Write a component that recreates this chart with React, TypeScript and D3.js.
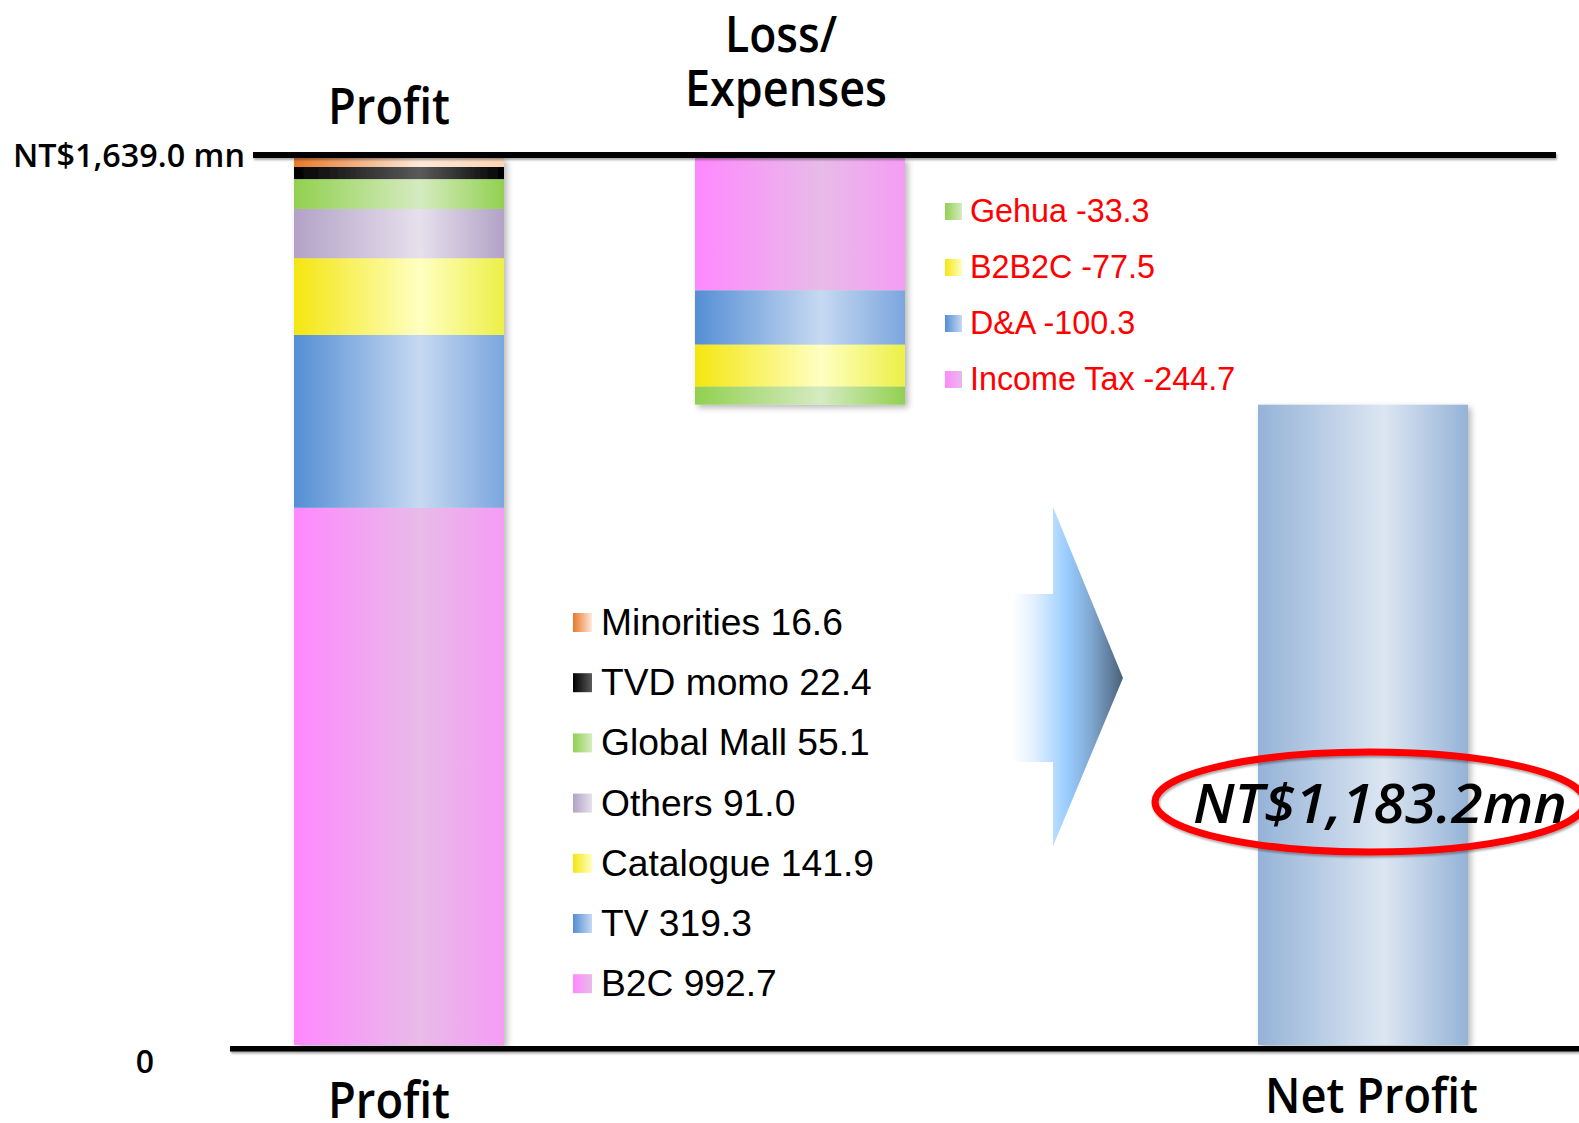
import React from "react";
import * as d3 from "d3";

// ---- data ----
const profitNames = ["B2C", "TV", "Catalogue", "Others", "Global Mall", "TVD momo", "Minorities"];
const profitValues = [992.7, 319.3, 141.9, 91.0, 55.1, 22.4, 16.6];
const profitColors = [
  ["#ff88ff", "#e8bbe8", "#f59cf5"],
  ["#558ed5", "#c6d9f1", "#7ba6de"],
  ["#f4e610", "#ffffc2", "#ecf046"],
  ["#b3a2c7", "#e6e0ec", "#b3a2c7"],
  ["#92d050", "#d5ebc1", "#92d050"],
  ["#000000", "#5a5a5a", "#000000"],
  ["#e8782a", "#fde9d9", "#fbd4b4"],
];
const lossNames = ["Income Tax", "D&A", "B2B2C", "Gehua"];
const lossValues = [244.7, 100.3, 77.5, 33.3];
const lossColors = [profitColors[0], profitColors[1], profitColors[2], profitColors[4]];
const netColors = ["#95b3d7", "#dce6f2", "#95b3d7"];
const categories = ["Profit", "Loss", "Net"];
const topLabel = "NT$1,639.0 mn";

export default function App() {
  const W = 1579, H = 1123;
  const total = d3.sum(profitValues);
  const net = total - d3.sum(lossValues);
  const y = d3.scaleLinear().domain([0, total]).range([1045, 158]);
  const x = d3.scaleOrdinal<string, number>().domain(categories).range([294, 695, 1258]);
  const bw = 210;

  const profitCum = d3.cumsum(profitValues);
  const profitStack = profitValues.map((v, i) => ({ i, y0: profitCum[i] - v, y1: profitCum[i] }));
  const lossCum = d3.cumsum(lossValues);
  const lossStack = lossValues.map((v, i) => ({ i, top: total - (lossCum[i] - v), bot: total - lossCum[i] }));

  const titleFont = "'Open Sans', 'DejaVu Sans', sans-serif";
  const legFont = "'Liberation Sans', Arial, sans-serif";

  const grad = (id: string, c: string[]) => (
    <linearGradient id={id} key={id} x1="0" x2="1" y1="0" y2="0">
      <stop offset="0" stopColor={c[0]} />
      <stop offset="0.6" stopColor={c[1]} />
      <stop offset="1" stopColor={c[2]} />
    </linearGradient>
  );
  const legGrad = (id: string, c: string[]) => (
    <linearGradient id={id} key={id} x1="0" x2="1" y1="0" y2="0">
      <stop offset="0" stopColor={c[0]} />
      <stop offset="1" stopColor={c[1]} />
    </linearGradient>
  );

  const legendProfit = profitNames.map((n, i) => ({ n, v: profitValues[i], i })).reverse();
  const legendLoss = lossNames.map((n, i) => ({ n, v: lossValues[i], i })).reverse();

  return (
    <svg width={W} height={H} style={{ position: "absolute", left: 0, top: 0, display: "block" }}>
      <defs>
        {profitColors.map((c, i) => grad(`pg${i}`, c))}
        {lossColors.map((c, i) => grad(`lg${i}`, c))}
        {grad("ng", netColors)}
        {profitColors.map((c, i) => legGrad(`ppl${i}`, c))}
        {lossColors.map((c, i) => legGrad(`lpl${i}`, c))}
        <linearGradient id="arrowG" x1="0" x2="1" y1="0" y2="0">
          <stop offset="0" stopColor="#ffffff" />
          <stop offset="0.2" stopColor="#e2f0ff" />
          <stop offset="0.5" stopColor="#99ccff" />
          <stop offset="0.72" stopColor="#7fa6cf" />
          <stop offset="1" stopColor="#4a6178" />
        </linearGradient>
        <filter id="shadow" x="-10%" y="-10%" width="130%" height="130%">
          <feDropShadow dx="3" dy="3" stdDeviation="3" floodColor="#000" floodOpacity="0.28" />
        </filter>
        <filter id="lshadow" filterUnits="userSpaceOnUse" x="0" y="0" width={W} height={H}>
          <feDropShadow dx="1" dy="2" stdDeviation="1.2" floodColor="#000" floodOpacity="0.35" />
        </filter>
      </defs>
      <rect x={0} y={0} width={W} height={H} fill="#fff" />

      {/* Profit bar */}
      <g filter="url(#shadow)">
        {profitStack.map((s) => (
          <rect key={s.i} x={x("Profit")} width={bw} y={y(s.y1)} height={y(s.y0) - y(s.y1)} fill={`url(#pg${s.i})`} />
        ))}
      </g>
      {/* Loss bar */}
      <g filter="url(#shadow)">
        {lossStack.map((s) => (
          <rect key={s.i} x={x("Loss")} width={bw} y={y(s.top)} height={y(s.bot) - y(s.top)} fill={`url(#lg${s.i})`} />
        ))}
      </g>
      {/* Net bar */}
      <rect x={x("Net")} width={bw} y={y(net)} height={y(0) - y(net)} fill="url(#ng)" filter="url(#shadow)" />

      {/* lines */}
      <rect x={253} width={1556 - 253} y={152} height={6} fill="#000" filter="url(#lshadow)" />
      <rect x={230} width={W - 230} y={1046} height={5.5} fill="#000" filter="url(#lshadow)" />

      {/* titles */}
      <g fontFamily={titleFont} fontWeight={600} fill="#000">
        <text x={328} y={124} fontSize={50} textLength={122} lengthAdjust="spacingAndGlyphs">Profit</text>
        <text x={725} y={52} fontSize={50} textLength={112} lengthAdjust="spacingAndGlyphs">Loss/</text>
        <text x={685} y={106} fontSize={50} textLength={202} lengthAdjust="spacingAndGlyphs">Expenses</text>
        <text x={13} y={167} fontSize={33} textLength={232} lengthAdjust="spacingAndGlyphs">{topLabel}</text>
        <text x={145} y={1073} fontSize={32} textAnchor="middle">0</text>
        <text x={328} y={1118} fontSize={50} textLength={122} lengthAdjust="spacingAndGlyphs">Profit</text>
        <text x={1265} y={1113} fontSize={48} textLength={213} lengthAdjust="spacingAndGlyphs">Net Profit</text>
      </g>

      {/* profit legend */}
      {legendProfit.map((d, k) => {
        const by = 635 + k * 60.2;
        return (
          <g key={d.n}>
            <rect x={573} y={by - 22} width={19} height={19} fill={`url(#ppl${d.i})`} />
            <text x={601} y={by} fontFamily={legFont} fontSize={37.2} fill="#000">{`${d.n} ${d.v.toFixed(1)}`}</text>
          </g>
        );
      })}

      {/* loss legend */}
      {legendLoss.map((d, k) => {
        const by = 222 + k * 56;
        return (
          <g key={d.n}>
            <rect x={945} y={by - 19} width={17} height={17} fill={`url(#lpl${d.i})`} />
            <text x={970} y={by} fontFamily={legFont} fontSize={32.3} fill="#ff0000">{`${d.n} -${d.v.toFixed(1)}`}</text>
          </g>
        );
      })}

      {/* arrow */}
      <polygon
        points="1012,594 1053,594 1053,507 1123,678 1053,846 1053,762 1012,762"
        fill="url(#arrowG)"
      />

      {/* net value label */}
      <text x={1193} y={823} fontFamily={titleFont} fontWeight={600} fontSize={55} fontStyle="italic" textLength={374} lengthAdjust="spacingAndGlyphs">
        {`NT$${d3.format(",.1f")(net)}mn`}
      </text>
      <ellipse cx={1370} cy={802} rx={215} ry={50} fill="none" stroke="#ff0000" strokeWidth={7} filter="url(#lshadow)" />
    </svg>
  );
}
